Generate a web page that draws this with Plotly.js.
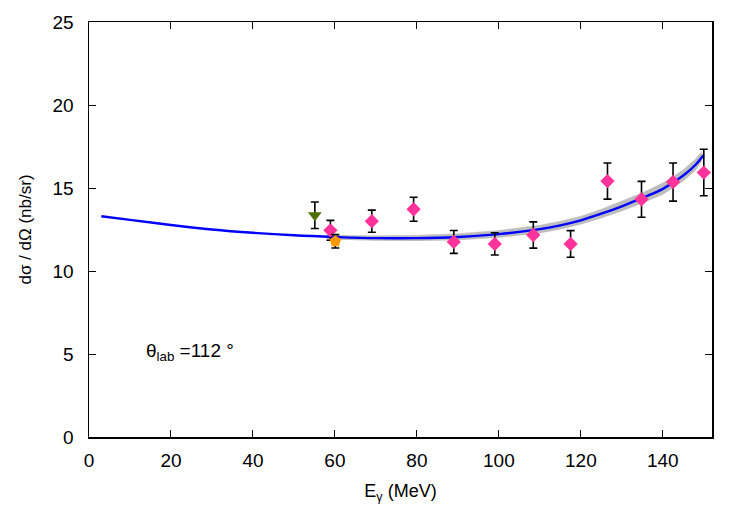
<!DOCTYPE html>
<html>
<head>
<meta charset="utf-8">
<script src="https://cdn.plot.ly/plotly-3.0.1.min.js"></script>
<style>html,body{margin:0;padding:0;background:#fff;}#chart{width:750px;height:525px;}</style>
</head>
<body>
<div id="chart"></div>
<script>
// Theory curve
const curveE   = [3, 10, 20, 30, 40, 50, 60, 70, 80, 90, 100, 110, 115, 120, 125, 130, 135, 140, 145, 148, 150];
const curveVal = [13.3, 13.08, 12.77, 12.5, 12.3, 12.15, 12.05, 11.98, 11.98, 12.05, 12.22, 12.52, 12.75, 13.05, 13.45, 13.9, 14.4, 14.95, 15.75, 16.4, 17.0];
// Uncertainty band
const bandE     = [58, 70, 80, 90, 100, 110, 115, 120, 125, 130, 135, 140, 145, 148, 149.5];
const bandLow   = [11.9, 11.82, 11.8, 11.85, 12.0, 12.28, 12.5, 12.8, 13.18, 13.6, 14.08, 14.6, 15.4, 16.05, 16.6];
const bandHigh  = [12.15, 12.12, 12.15, 12.25, 12.44, 12.76, 13.0, 13.3, 13.72, 14.2, 14.72, 15.3, 16.1, 16.75, 17.2];
// Data sets
const pinkE   = [58.9, 69.0, 79.2, 89.0, 99.0, 108.4, 117.5, 126.5, 134.8, 142.5, 150.0];
const pinkVal = [12.45, 13.0, 13.72, 11.75, 11.63, 12.17, 11.63, 15.42, 14.32, 15.36, 15.93];
const pinkErr = [0.6, 0.67, 0.72, 0.69, 0.67, 0.79, 0.8, 1.09, 1.08, 1.15, 1.4];
const greenE   = [55.1];
const greenVal = [13.36];
const greenErr = [0.8];
const orangeE   = [60.1];
const orangeVal = [11.79];
const orangeErr = [0.4];

const errStyle = (arr) => ({type: 'data', array: arr, visible: true, color: '#000', thickness: 1.6, width: 4});

const traces = [
  {x: bandE, y: bandLow, mode: 'lines', line: {width: 0, color: 'rgba(0,0,0,0)'}, hoverinfo: 'skip', showlegend: false},
  {x: bandE, y: bandHigh, mode: 'lines', fill: 'tonexty', fillcolor: '#bdbdbd', line: {width: 0.5, color: '#bdbdbd'}, hoverinfo: 'skip', showlegend: false},
  {x: curveE, y: curveVal, mode: 'lines', line: {color: '#0000ff', width: 2.4, shape: 'spline'}, showlegend: false},
  {x: greenE, y: greenVal, mode: 'markers', error_y: errStyle(greenErr), marker: {symbol: 'triangle-down', size: 12, color: '#4f7000'}, showlegend: false},
  {x: pinkE, y: pinkVal, mode: 'markers', error_y: errStyle(pinkErr), marker: {symbol: 'diamond', size: 11, color: '#ff3399'}, showlegend: false},
  {x: orangeE, y: orangeVal, mode: 'markers', error_y: errStyle(orangeErr), marker: {symbol: 'pentagon', size: 12, color: '#ff9900'}, showlegend: false}
];

const FAM = 'Liberation Sans, Arial, sans-serif';
const axisFont = {family: FAM, size: 19, color: '#000'};
const layout = {
  width: 750, height: 525,
  margin: {l: 89, r: 38, t: 22, b: 88},
  paper_bgcolor: '#fff', plot_bgcolor: '#fff',
  font: {family: FAM, color: '#000'},
  xaxis: {
    range: [0, 152], dtick: 20, tick0: 0,
    ticks: 'inside', ticklen: 7, tickwidth: 1, tickcolor: '#000',
    showline: true, linecolor: '#000', linewidth: 1.5, mirror: 'ticks',
    showgrid: false, zeroline: false,
    tickfont: axisFont, ticklabelstandoff: 6,
    title: {text: 'E<sub>γ</sub> (MeV)', font: {family: FAM, size: 18, color: '#000'}, standoff: 14}
  },
  yaxis: {
    range: [0, 25], dtick: 5, tick0: 0,
    ticks: 'inside', ticklen: 7, tickwidth: 1, tickcolor: '#000',
    showline: true, linecolor: '#000', linewidth: 1.5, mirror: 'ticks',
    showgrid: false, zeroline: false,
    tickfont: axisFont, ticklabelstandoff: 10,
    title: {text: 'dσ / dΩ (nb/sr)', font: {family: FAM, size: 17, color: '#000'}, standoff: 16}
  },
  annotations: [{
    x: 13.3, y: 5.1, xref: 'x', yref: 'y', xanchor: 'left', yanchor: 'middle',
    text: 'θ<sub>lab</sub> =112 °', showarrow: false,
    font: {family: FAM, size: 19, color: '#000'}
  }]
};

Plotly.newPlot('chart', traces, layout, {displayModeBar: false, staticPlot: true});
</script>
</body>
</html>
